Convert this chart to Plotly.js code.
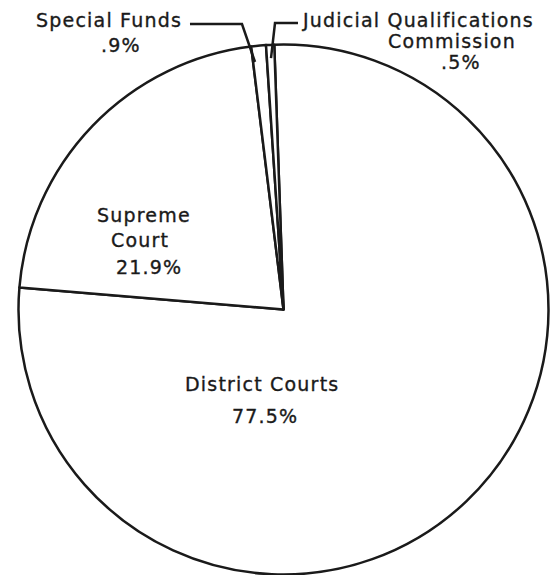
<!DOCTYPE html>
<html><head><meta charset="utf-8">
<script src="https://cdn.plot.ly/plotly-3.0.1.min.js"></script>
<style>
html,body{margin:0;padding:0;background:#fff;}
#chart{width:555px;height:575px;}
.annotation-text{letter-spacing:1.2px; stroke:#1a1a1a; stroke-width:0.35px;}
</style></head><body><div id="chart"></div>
<script>
// ---- data ----
const categories = ["District Courts", "Supreme Court", "Special Funds", "Judicial Qualifications Commission"];
const percents = [77.5, 21.9, 0.9, 0.5];
const percentLabels = ["77.5%", "21.9%", ".9%", ".5%"];
const nameLines = [["District Courts"], ["Supreme", "Court"], ["Special Funds"], ["Judicial Qualifications", "Commission"]];

// ---- layout helpers (pixel -> paper) ----
const W = 555, H = 575;
const px = x => x / W;
const py = y => 1 - y / H;
const FS = 19;
const INK = '#1a1a1a';

// label positions (pixel centre x, baseline y) for each line: names then percent
const labelPos = [
  { names: [[262, 391]], pct: [265, 423] },
  { names: [[144, 222], [140, 247]], pct: [149, 274] },
  { names: [[109, 27]], pct: [121, 52] },
  { names: [[418, 27], [452, 48]], pct: [461, 69] }
];

const annotations = [];
function addText(t, cx, base) {
  annotations.push({
    text: t, xref: 'paper', yref: 'paper', x: px(cx), y: py(base - 0.36 * FS),
    xanchor: 'center', yanchor: 'middle', showarrow: false,
    font: { family: 'DejaVu Sans, Verdana, sans-serif', size: FS, color: INK }
  });
}
categories.forEach((c, i) => {
  nameLines[i].forEach((ln, j) => addText(ln, labelPos[i].names[j][0], labelPos[i].names[j][1]));
  addText(percentLabels[i], labelPos[i].pct[0], labelPos[i].pct[1]);
});

function path(pts) {
  return pts.map((p, k) => (k ? 'L ' : 'M ') + px(p[0]).toFixed(4) + ' ' + py(p[1]).toFixed(4)).join(' ');
}
const shapes = [
  { type: 'path', xref: 'paper', yref: 'paper', path: path([[190, 24], [242, 24], [255, 62]]), line: { color: INK, width: 2.5 } },
  { type: 'path', xref: 'paper', yref: 'paper', path: path([[298, 23], [275, 23], [271, 58]]), line: { color: INK, width: 2.5 } }
];

const cx = 283.5, cy = 309.5, r = 265;
const trace = {
  type: 'pie',
  labels: categories,
  values: percents,
  sort: false,
  direction: 'clockwise',
  rotation: -2,
  textinfo: 'none',
  hoverinfo: 'none',
  showlegend: false,
  marker: { colors: categories.map(() => '#ffffff'), line: { color: INK, width: 2.5 } },
  domain: { x: [px(cx - r), px(cx + r)], y: [py(cy + r), py(cy - r)] }
};

Plotly.newPlot('chart', [trace], {
  width: W, height: H,
  margin: { l: 0, r: 0, t: 0, b: 0 },
  paper_bgcolor: '#ffffff',
  showlegend: false,
  annotations: annotations,
  shapes: shapes
}, { displayModeBar: false, staticPlot: true });
</script></body></html>
